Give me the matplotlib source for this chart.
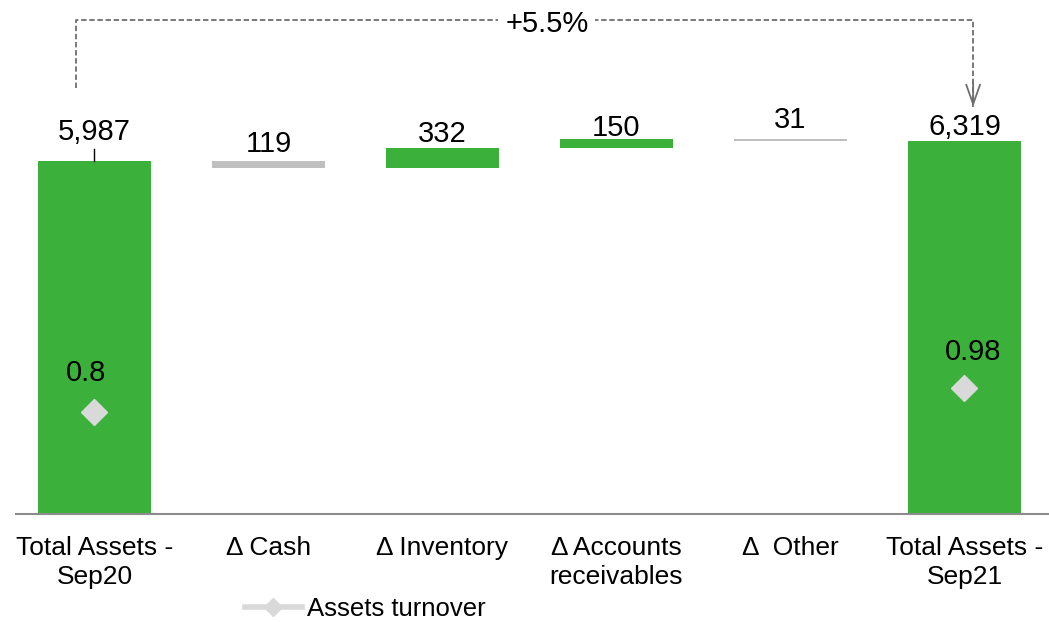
import numpy as np
import matplotlib
matplotlib.use('Agg')
import matplotlib.pyplot as plt
from matplotlib.lines import Line2D

plt.rcParams['font.family'] = ['Liberation Sans', 'DejaVu Sans']

# =============================================================================
# data
# =============================================================================

categories = ['Total Assets -\nSep20', 'Δ Cash', 'Δ Inventory',
              'Δ Accounts\nreceivables', 'Δ  Other', 'Total Assets -\nSep21']
values = [5987, -119, 332, 150, -31, 6319]
is_total = [True, False, False, False, False, True]
value_labels = ['5,987', '119', '332', '150', '31', '6,319']
turnover = [0.8, np.nan, np.nan, np.nan, np.nan, 0.98]
turnover_labels = ['0.8', '', '', '', '', '0.98']
growth_label = '+5.5%'

GREEN = '#3BB03B'
GREY = '#BFBFBF'
DIAMOND = '#D9D9D9'

# =============================================================================
# waterfall geometry
# =============================================================================

bottoms, heights, colors = [], [], []
running = 0
for v, tot in zip(values, is_total):
    if tot:
        bottoms.append(0)
        heights.append(v)
        colors.append(GREEN)
        running = v
    else:
        if v >= 0:
            bottoms.append(running)
            colors.append(GREEN)
        else:
            bottoms.append(running + v)
            colors.append(GREY)
        heights.append(abs(v))
        running += v

x = np.arange(len(categories))

fig = plt.figure(figsize=(10.49, 6.22), dpi=100)
ax = fig.add_axes([16 / 1049, (622 - 513.5) / 622, 1033 / 1049, 513.5 / 622])

ax.bar(x, heights, bottom=bottoms, width=0.65, color=colors, zorder=2)
ax.set_xlim(-0.451, 5.486)
ax.set_ylim(0, 513.5 / 0.05896)

# value labels (offsets in points above each bar)
label_pad = [10.5, 1.8, 0, -2, 3.5, -0.3]
for i, (b, h, lab) in enumerate(zip(bottoms, heights, value_labels)):
    ax.annotate(lab, (x[i], b + h), xytext=(0, label_pad[i]), textcoords='offset points',
                ha='center', va='bottom', fontsize=21)
# small leader line on the first total
ax.plot([x[0], x[0]], [values[0], values[0] + 200], color='black', lw=1, zorder=3)

# growth bracket
y_br = 8370
xl, xr = x[0] - 0.105, x[-1] + 0.05
dash = dict(color='#6E6E6E', lw=1.3, ls=(0, (3, 1.5)))
ax.plot([xl, xl, xr, xr], [values[0] + 1230, y_br, y_br, values[-1] + 580], **dash)
ax.annotate('', xy=(xr, values[-1] + 580), xytext=(xr, values[-1] + 1000),
            arrowprops=dict(arrowstyle='->,head_length=1.4,head_width=0.5',
                            color='#6E6E6E', lw=1.3, shrinkA=0, shrinkB=0))
ax.text(2.6, y_br - 70, growth_label, ha='center', va='center', fontsize=21,
        bbox=dict(facecolor='white', edgecolor='none', pad=5))

# axis styling
for s in ['top', 'right', 'left']:
    ax.spines[s].set_visible(False)
ax.spines['bottom'].set_color('#8C8C8C')
ax.spines['bottom'].set_linewidth(1.5)
ax.set_yticks([])
ax.set_xticks(x)
ax.set_xticklabels(categories, fontsize=19, linespacing=1.25)
ax.tick_params(axis='x', length=0, pad=16.5)

# assets turnover on secondary axis
ax2 = ax.twinx()
ax2.set_ylim(0.039, 3.891)
ax2.axis('off')
ax2.plot(x, turnover, marker='D', ms=13, color=DIAMOND, lw=3, ls='none')
tl_dx = [-6, 0, 0, 0, 0, 6]
tl_dy = [18, 0, 0, 0, 0, 16]
for i, (t, lab) in enumerate(zip(turnover, turnover_labels)):
    if lab:
        ax2.annotate(lab, (x[i], t), xytext=(tl_dx[i], tl_dy[i]), textcoords='offset points',
                     ha='center', va='bottom', fontsize=21)

handle = Line2D([], [], color=DIAMOND, lw=4, marker='D', ms=9)
fig.legend([handle], ['Assets turnover'], loc='center left',
           bbox_to_anchor=(245 / 1049, 1 - 609 / 622), frameon=False,
           fontsize=18.5, handlelength=2.2, handletextpad=0.2,
           borderpad=0, borderaxespad=0)

fig.savefig('out.png', dpi=100)
